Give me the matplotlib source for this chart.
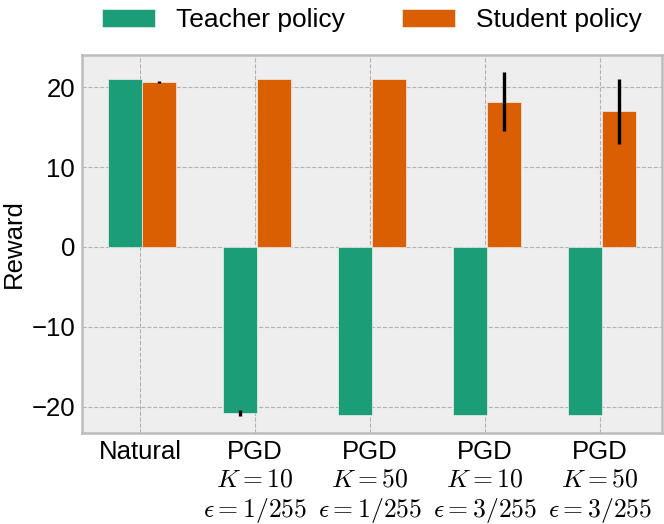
import numpy as np
import matplotlib
matplotlib.use('Agg')
import matplotlib.pyplot as plt

plt.style.use('bmh')
plt.rcParams['font.family'] = ['Liberation Sans', 'DejaVu Sans']
plt.rcParams['mathtext.fontset'] = 'cm'

# data
labels = ['Natural',
          'PGD\n$K=10$\n$\\epsilon=1/255$',
          'PGD\n$K=50$\n$\\epsilon=1/255$',
          'PGD\n$K=10$\n$\\epsilon=3/255$',
          'PGD\n$K=50$\n$\\epsilon=3/255$']
teacher_mean = [21.0, -20.8, -21.0, -21.0, -21.0]
teacher_err = [0.0, 0.35, 0.0, 0.0, 0.0]
student_mean = [20.7, 21.0, 21.0, 18.2, 17.0]
student_err = [0.1, 0.0, 0.0, 3.7, 4.1]

x = np.arange(len(labels))
w = 0.2925

fig = plt.figure(figsize=(6.64, 5.24), dpi=100)
ax = fig.add_subplot(1, 1, 1)
ax.bar(x - 0.128, teacher_mean, w, yerr=teacher_err, color='#1b9e77',
       edgecolor='#eeeeee', linewidth=0.5, label='Teacher policy',
       error_kw=dict(ecolor='black', elinewidth=2.4, capsize=0))
ax.bar(x + 0.164, student_mean, w, yerr=student_err, color='#d95f02',
       edgecolor='#eeeeee', linewidth=0.5, label='Student policy',
       error_kw=dict(ecolor='black', elinewidth=2.4, capsize=0))

ax.set_xticks(x)
ax.set_xticklabels(labels, fontsize=18.5)
ax.set_yticks([-20, -10, 0, 10, 20])
ax.tick_params(axis='y', labelsize=18.5)
ax.tick_params(length=0, pad=5)
ax.set_ylabel('Reward', fontsize=18.5)
ax.grid(True, color='#b2b2b2', linestyle='--', linewidth=0.8)
ax.set_axisbelow(True)
for s in ax.spines.values():
    s.set_color('#bcbcbc')
    s.set_linewidth(1.8)

ax.legend(loc='center', bbox_to_anchor=(0.5, 1.0926), ncol=2, frameon=False,
          fontsize=19, handlelength=2.0, handleheight=0.7, handletextpad=0.8,
          columnspacing=2.15, borderaxespad=0)

plt.subplots_adjust(left=0.1235, right=0.997, top=0.895, bottom=0.1737)
plt.savefig('out.png', dpi=100)
